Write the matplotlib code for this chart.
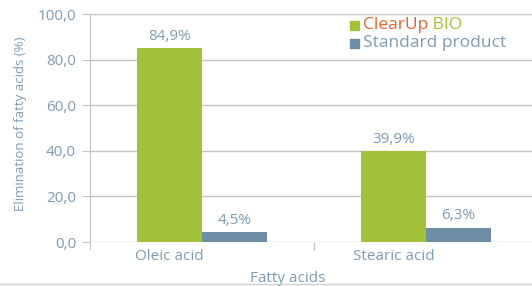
import matplotlib.pyplot as plt
import numpy as np

# Data
categories = ['Oleic acid', 'Stearic acid']
clearup = [84.9, 39.9]
standard = [4.5, 6.3]
yticks = [0, 20, 40, 60, 80, 100]
ytick_labels = ['0,0', '20,0', '40,0', '60,0', '80,0', '100,0']

green = '#a3c23a'
blue = '#6f8fa7'
txt = '#7f9cb4'
grid = '#c4c4c4'
orange = '#e2642e'

plt.rcParams['font.family'] = ['Open Sans', 'DejaVu Sans']

fig = plt.figure(figsize=(5.32, 2.86), dpi=100)
ax = fig.add_axes([90 / 532, 1 - 242 / 286, 448 / 532, 228 / 286])

x = np.arange(len(categories))
w = 0.29
b1 = ax.bar(x - w / 2, clearup, w, color=green)
b2 = ax.bar(x + w / 2, standard, w, color=blue)

for bars, vals in [(b1, clearup), (b2, standard)]:
    for r, v in zip(bars, vals):
        ax.annotate(f'{v:.1f}%'.replace('.', ','), (r.get_x() + r.get_width() / 2, v),
                    xytext=(0, 3), textcoords='offset points', ha='center', va='bottom',
                    color=txt, fontsize=11)

ax.set_xlim(-0.5, 1.5)
ax.set_ylim(0, 100)
ax.set_yticks(yticks)
ax.set_yticklabels(ytick_labels)
ax.yaxis.grid(True, color=grid, linewidth=1)
ax.set_axisbelow(True)
for s in ['top', 'right', 'bottom']:
    ax.spines[s].set_visible(False)
ax.spines['left'].set_color(grid)
ax.tick_params(axis='y', colors=grid, labelcolor=txt, labelsize=11, length=6, pad=4)

# category labels under the green bars, divider tick between groups
ax.set_xticks(x - w / 2)
ax.set_xticklabels(categories)
ax.tick_params(axis='x', length=0, labelcolor=txt, labelsize=11, pad=5)
ax.set_xticks([0.5], minor=True)
ax.tick_params(axis='x', which='minor', length=6, color=grid, width=1)
ax.spines['left'].set_bounds(-3, 100)

ax.set_xlabel('Fatty acids', color=txt, fontsize=11)
ax.xaxis.set_label_coords((288 - 90) / 448, -0.125)
ax.set_ylabel('Elimination of fatty acids (%)', color=txt, fontsize=9.5)
ax.yaxis.set_label_coords(-63 / 448, 0.52)

# legend drawn by hand to get the two-colour brand name
fig.patches.append(plt.Rectangle((350 / 532, 1 - 30 / 286), 9 / 532, 9 / 286,
                                 color=green, transform=fig.transFigure))
fig.patches.append(plt.Rectangle((350 / 532, 1 - 48 / 286), 9 / 532, 9 / 286,
                                 color=blue, transform=fig.transFigure))
t1 = fig.text(363 / 532, 1 - 25 / 286, 'ClearUp', color=orange, fontsize=12.5, va='center')
ax.annotate(' BIO', xy=(1, 0.5), xycoords=t1, va='center', ha='left',
            color=green, fontsize=12.5)
fig.text(363 / 532, 1 - 43 / 286, 'Standard product', color=txt, fontsize=12.5, va='center')

# bottom border line
fig.add_artist(plt.Line2D([0, 1], [2 / 286, 2 / 286], color='#d0d0d0', linewidth=1,
                          transform=fig.transFigure))

fig.savefig('out.png', dpi=100)
